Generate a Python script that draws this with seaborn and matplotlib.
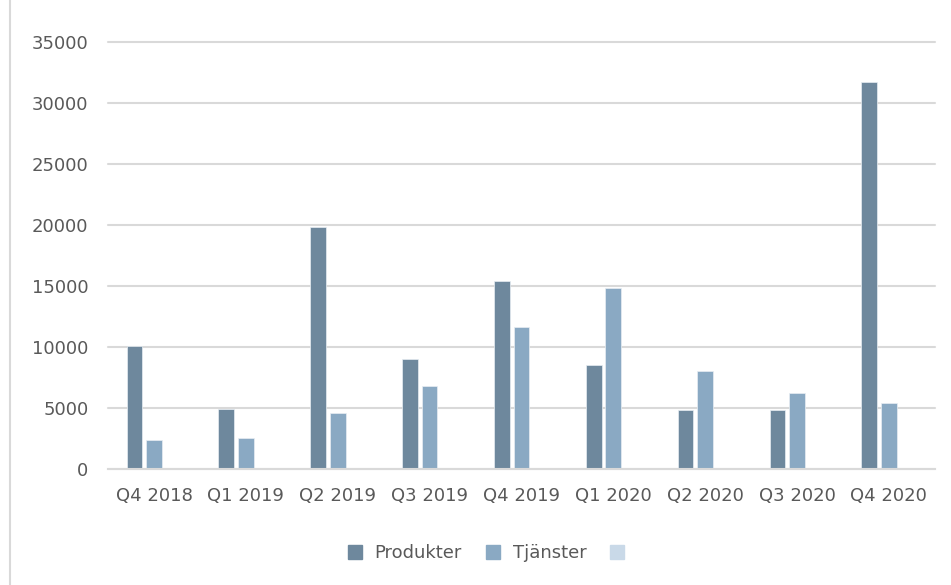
import matplotlib.pyplot as plt
import seaborn as sns
import pandas as pd
from matplotlib.lines import Line2D

quarters = ['Q4 2018', 'Q1 2019', 'Q2 2019', 'Q3 2019', 'Q4 2019',
            'Q1 2020', 'Q2 2020', 'Q3 2020', 'Q4 2020']
produkter = [10050, 4900, 19800, 9000, 15400, 8500, 4800, 4800, 31700]
tjanster = [2400, 2500, 4600, 6800, 11600, 14800, 8000, 6200, 5400]
tom = [0, 0, 0, 0, 0, 0, 0, 0, 0]   # third series, empty in the source
series = ['Produkter', 'Tjänster', ' ']

rows = []
for name, vals in zip(series, [produkter, tjanster, tom]):
    for q, v in zip(quarters, vals):
        rows.append({'kvartal': q, 'serie': name, 'varde': v})
df = pd.DataFrame(rows)

sns.set_style('white')
plt.rcParams['font.family'] = ['DejaVu Sans']

palette = ['#6E889D', '#8AA9C3', '#C9D9E8']
fig = plt.figure(figsize=(9.51, 5.85), dpi=100)
ax = fig.add_axes([0.1136, 0.1983, 0.8694, 0.7299])

sns.barplot(data=df, x='kvartal', y='varde', hue='serie', hue_order=series,
            order=quarters, palette=palette, saturation=1, width=0.64, gap=0.2,
            edgecolor='#E8EEF3', linewidth=0.5, ax=ax, legend=False)

ax.set_ylim(0, 35000)
ax.set_xlim(-0.5, len(quarters) - 0.5)
ax.set_yticks(range(0, 35001, 5000))
ax.yaxis.grid(True, color='#D9D9D9', linewidth=1.5)
for gl in ax.get_ygridlines():
    gl.set_clip_on(False)
ax.set_axisbelow(True)
for s in ['top', 'right', 'left']:
    ax.spines[s].set_visible(False)
ax.spines['bottom'].set_color('#D9D9D9')
ax.spines['bottom'].set_linewidth(1.5)
ax.tick_params(axis='both', length=0, labelsize=13, labelcolor='#595959')
ax.tick_params(axis='y', pad=14)
ax.tick_params(axis='x', pad=13)
ax.set_xlabel('')
ax.set_ylabel('')

handles = [Line2D([], [], marker='s', linestyle='', markersize=10,
                  markerfacecolor=c, markeredgecolor=c) for c in palette]
fig.legend(handles, series, loc='center', bbox_to_anchor=(0.515, 0.054),
           ncol=3, frameon=False, fontsize=13, labelcolor='#595959',
           handletextpad=0.1, columnspacing=0.7)

# chart area border (only the left edge is visible in the crop)
fig.add_artist(Line2D([0.0105, 0.0105], [0, 1], color='#D9D9D9', linewidth=1.5,
                      transform=fig.transFigure))

fig.savefig('out.png', dpi=100)
